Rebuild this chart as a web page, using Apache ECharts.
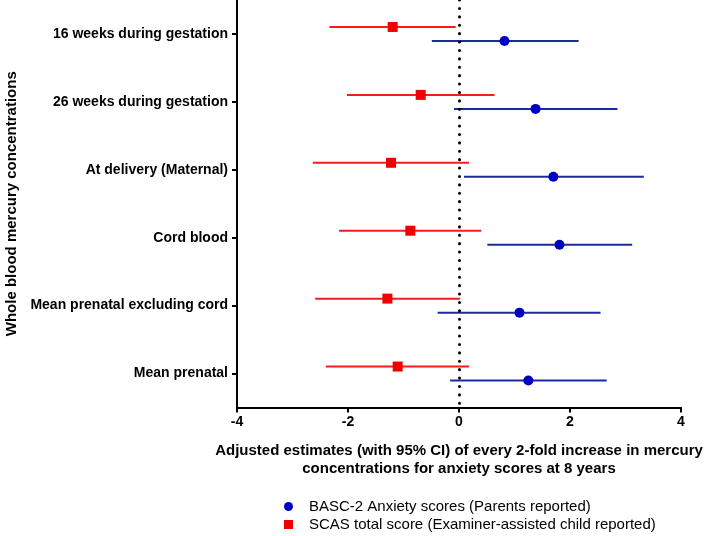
<!DOCTYPE html>
<html><head><meta charset="utf-8">
<script src="https://cdn.jsdelivr.net/npm/echarts@6/dist/echarts.min.js"></script>
<style>html,body{margin:0;padding:0;background:#fff}#c{width:709px;height:536px}</style>
</head><body><div id="c"></div>
<script>
const categories = ['16 weeks during gestation','26 weeks during gestation','At delivery (Maternal)','Cord blood','Mean prenatal excluding cord','Mean prenatal'];
const xTicks = [-4, -2, 0, 2, 4];
const basEst = [0.82, 1.38, 1.70, 1.81, 1.09, 1.25];
const basLo  = [-0.49, -0.09, 0.09, 0.51, -0.385, -0.16];
const basHi  = [2.155, 2.855, 3.33, 3.12, 2.55, 2.66];
const scasEst = [-1.195, -0.69, -1.225, -0.877, -1.29, -1.105];
const scasLo  = [-2.335, -2.02, -2.635, -2.16, -2.59, -2.40];
const scasHi  = [-0.06, 0.64, 0.18, 0.40, 0.02, 0.18];
const basName = 'BASC-2 Anxiety scores (Parents reported)';
const scasName = 'SCAS total score (Examiner-assisted child reported)';

const chart = echarts.init(document.getElementById('c'));
function errBar(offset, color) {
  return function (params, api) {
    const c = api.value(0);
    const p1 = api.coord([api.value(1), c]);
    const p2 = api.coord([api.value(2), c]);
    return { type: 'line', shape: { x1: p1[0], y1: p1[1] + offset, x2: p2[0], y2: p2[1] + offset },
      style: { stroke: color, lineWidth: 2 } };
  };
}
const font = 'Liberation Sans, Arial, sans-serif';
const legendText = { color: '#000', fontSize: 15, fontFamily: font, padding: [0, 0, 0, 11] };
chart.setOption({
  animation: false,
  grid: { left: 237, right: 28, top: 0, bottom: 128.5, containLabel: false, outerBoundsMode: 'none' },
  xAxis: {
    type: 'value', min: -4, max: 4, interval: 2,
    axisLine: { show: true, onZero: false, lineStyle: { color: '#000', width: 2 } },
    axisTick: { show: true, length: 5, lineStyle: { color: '#000', width: 2 } },
    axisLabel: { color: '#000', fontWeight: 'bold', fontSize: 14, fontFamily: font, margin: 8,
      formatter: v => xTicks.includes(v) ? String(v) : '' },
    splitLine: { show: false },
    name: 'Adjusted estimates (with 95% CI) of every 2-fold increase in mercury\nconcentrations for anxiety scores at 8 years',
    nameLocation: 'middle', nameGap: 34,
    nameTextStyle: { color: '#000', fontWeight: 'bold', fontSize: 15, fontFamily: font, lineHeight: 18 }
  },
  yAxis: {
    type: 'category', data: categories, inverse: true,
    axisLine: { show: true, onZero: false, lineStyle: { color: '#000', width: 2 } },
    axisTick: { show: true, length: 5, alignWithLabel: true, lineStyle: { color: '#000', width: 2 } },
    axisLabel: { color: '#000', fontWeight: 'bold', fontSize: 14, fontFamily: font, margin: 9 },
    name: 'Whole blood mercury concentrations', nameLocation: 'middle', nameRotate: 90, nameGap: 215,
    nameTextStyle: { color: '#000', fontWeight: 'bold', fontSize: 15, fontFamily: font }
  },
  legend: [
    { left: 279, top: 494, itemWidth: 9, itemHeight: 9, textStyle: legendText,
      data: [{ name: basName, icon: 'circle' }] },
    { left: 279, top: 512, itemWidth: 9, itemHeight: 9, textStyle: legendText,
      data: [{ name: scasName, icon: 'rect' }] }
  ],
  series: [
    { type: 'custom', renderItem: errBar(-7, '#f21d1d'),
      data: categories.map((c, i) => [i, scasLo[i], scasHi[i]]), encode: { x: [1, 2], y: 0 }, z: 2 },
    { type: 'custom', renderItem: errBar(7, '#1c2aa0'),
      data: categories.map((c, i) => [i, basLo[i], basHi[i]]), encode: { x: [1, 2], y: 0 }, z: 2 },
    { name: scasName, type: 'scatter', symbol: 'rect', symbolSize: 10, symbolOffset: [0, -7],
      itemStyle: { color: '#f20000', opacity: 1 }, z: 3,
      data: categories.map((c, i) => [scasEst[i], c]) },
    { name: basName, type: 'scatter', symbol: 'circle', symbolSize: 10, symbolOffset: [0, 7],
      itemStyle: { color: '#0000c4', opacity: 1 }, z: 3,
      data: categories.map((c, i) => [basEst[i], c]),
      markLine: { silent: true, symbol: 'none', label: { show: false },
        lineStyle: { color: '#000', width: 3, type: [0.1, 8.3], cap: 'round' },
        data: [{ xAxis: 0 }] } }
  ]
});
</script></body></html>
